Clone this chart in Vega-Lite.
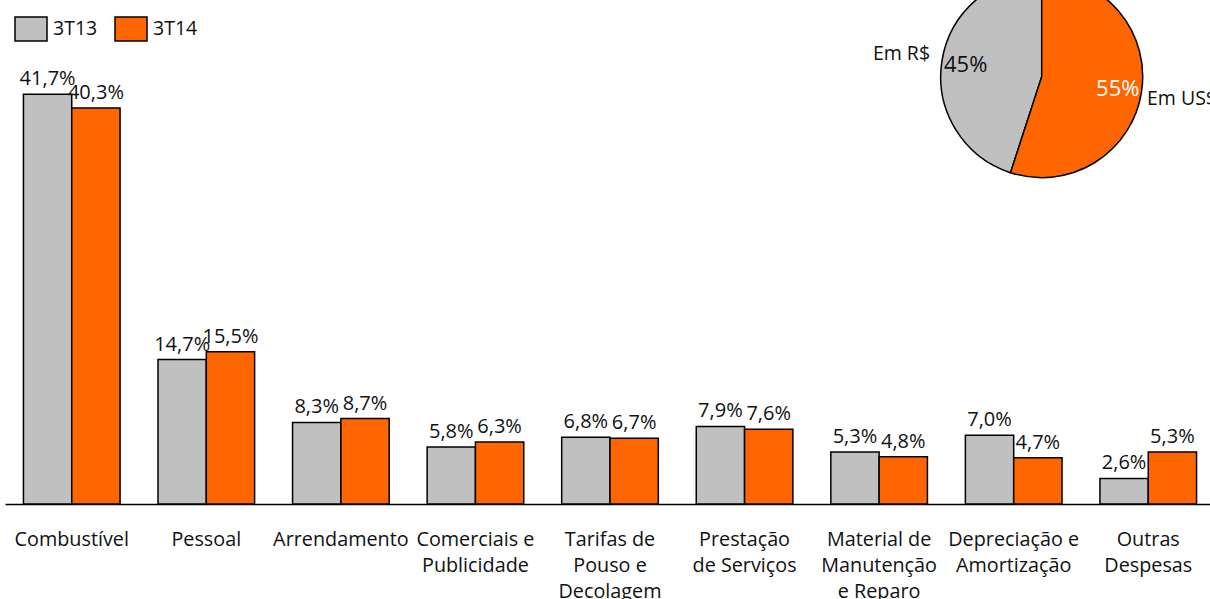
{
  "$schema": "https://vega.github.io/schema/vega-lite/v6.json",
  "width": 1210,
  "height": 504,
  "autosize": {"type": "none"},
  "padding": {"left": 0, "top": 0, "right": 0, "bottom": 95},
  "background": "white",
  "config": {"view": {"stroke": null}, "font": "Open Sans"},
  "datasets": {
    "custos": [
      {"categoria": "Combustível", "periodo": "3T13", "valor": 41.7},
      {"categoria": "Combustível", "periodo": "3T14", "valor": 40.3},
      {"categoria": "Pessoal", "periodo": "3T13", "valor": 14.7},
      {"categoria": "Pessoal", "periodo": "3T14", "valor": 15.5},
      {"categoria": "Arrendamento", "periodo": "3T13", "valor": 8.3},
      {"categoria": "Arrendamento", "periodo": "3T14", "valor": 8.7},
      {"categoria": "Comerciais e Publicidade", "periodo": "3T13", "valor": 5.8},
      {"categoria": "Comerciais e Publicidade", "periodo": "3T14", "valor": 6.3},
      {"categoria": "Tarifas de Pouso e Decolagem", "periodo": "3T13", "valor": 6.8},
      {"categoria": "Tarifas de Pouso e Decolagem", "periodo": "3T14", "valor": 6.7},
      {"categoria": "Prestação de Serviços", "periodo": "3T13", "valor": 7.9},
      {"categoria": "Prestação de Serviços", "periodo": "3T14", "valor": 7.6},
      {"categoria": "Material de Manutenção e Reparo", "periodo": "3T13", "valor": 5.3},
      {"categoria": "Material de Manutenção e Reparo", "periodo": "3T14", "valor": 4.8},
      {"categoria": "Depreciação e Amortização", "periodo": "3T13", "valor": 7.0},
      {"categoria": "Depreciação e Amortização", "periodo": "3T14", "valor": 4.7},
      {"categoria": "Outras Despesas", "periodo": "3T13", "valor": 2.6},
      {"categoria": "Outras Despesas", "periodo": "3T14", "valor": 5.3}
    ],
    "moeda": [
      {"moeda": "Em R$", "participacao": 45},
      {"moeda": "Em US$", "participacao": 55}
    ]
  },
  "layer": [
    {
      "data": {"name": "custos"},
      "mark": {"type": "bar", "stroke": "black", "strokeWidth": 1.5},
      "encoding": {
        "x": {
          "field": "categoria", "type": "nominal", "sort": null,
          "scale": {"range": [5, 1215], "paddingInner": 0.282, "paddingOuter": 0.137},
          "axis": {
            "title": null, "domain": true, "domainColor": "black", "domainWidth": 1.5,
            "ticks": false, "labelAngle": 0, "labelFont": "Open Sans", "labelFontSize": 19.8,
            "labelColor": "#111111", "labelPadding": 25, "labelLineHeight": 26,
            "labelOverlap": false, "labelBound": false, "labelLimit": 0, "labelBaseline": "top",
            "labelExpr": "{'Comerciais e Publicidade': ['Comerciais e', 'Publicidade'], 'Tarifas de Pouso e Decolagem': ['Tarifas de', 'Pouso e', 'Decolagem'], 'Prestação de Serviços': ['Prestação', 'de Serviços'], 'Material de Manutenção e Reparo': ['Material de', 'Manutenção', 'e Reparo'], 'Depreciação e Amortização': ['Depreciação e', 'Amortização'], 'Outras Despesas': ['Outras', 'Despesas']}[datum.label] || datum.label"
          }
        },
        "xOffset": {"field": "periodo", "type": "nominal", "scale": {"paddingInner": 0, "paddingOuter": 0}},
        "y": {"field": "valor", "type": "quantitative", "scale": {"domain": [0, 51.3], "nice": false, "zero": true}, "axis": null},
        "color": {
          "field": "periodo", "type": "nominal",
          "scale": {"domain": ["3T13", "3T14"], "range": ["#C0C0C0", "#FF6600"]},
          "legend": {
            "orient": "none", "legendX": 14, "legendY": 12, "direction": "horizontal", "title": null,
            "symbolType": "M-1,-0.75H1V0.75H-1Z", "symbolSize": 1024, "symbolStrokeColor": "black",
            "symbolStrokeWidth": 1.5, "symbolOpacity": 1, "labelFont": "Open Sans", "labelFontSize": 19.5,
            "labelColor": "#111111", "labelOffset": 5, "columnPadding": 14
          }
        }
      }
    },
    {
      "data": {"name": "custos"},
      "transform": [{"calculate": "replace(format(datum.valor, '.1f'), '.', ',') + '%'", "as": "rotulo"}],
      "mark": {"type": "text", "baseline": "alphabetic", "dy": -9, "fontSize": 20, "color": "#111111", "font": "Open Sans"},
      "encoding": {
        "x": {"field": "categoria", "type": "nominal", "sort": null},
        "xOffset": {"field": "periodo", "type": "nominal"},
        "y": {"field": "valor", "type": "quantitative"},
        "text": {"field": "rotulo"}
      }
    },
    {
      "data": {"name": "moeda"},
      "mark": {"type": "arc", "radius": 101, "stroke": "black", "strokeWidth": 1.5},
      "encoding": {
        "x": {"datum": "Depreciação e Amortização", "type": "nominal", "bandPosition": 0.79},
        "y": {"datum": 43.5, "type": "quantitative"},
        "theta": {"field": "participacao", "type": "quantitative", "stack": true},
        "order": {"field": "moeda", "sort": "descending"},
        "color": {
          "field": "moeda", "type": "nominal",
          "scale": {"domain": ["Em R$", "Em US$"], "range": ["#C0C0C0", "#FF6600"]},
          "legend": null
        }
      }
    },
    {
      "data": {"name": "moeda"},
      "transform": [{"calculate": "datum.participacao + '%'", "as": "rotulo"}],
      "mark": {"type": "text", "radius": 77, "fontSize": 22, "font": "Open Sans"},
      "encoding": {
        "x": {"datum": "Depreciação e Amortização", "type": "nominal", "bandPosition": 0.79},
        "y": {"datum": 43.5, "type": "quantitative"},
        "theta": {"field": "participacao", "type": "quantitative", "stack": true},
        "order": {"field": "moeda", "sort": "descending"},
        "text": {"field": "rotulo"},
        "color": {"condition": {"test": "datum.moeda === 'Em US$'", "value": "white"}, "value": "#111111"}
      }
    },
    {
      "data": {"name": "moeda"},
      "mark": {"type": "text", "radius": 142, "fontSize": 19.5, "font": "Open Sans", "color": "#111111"},
      "encoding": {
        "x": {"datum": "Depreciação e Amortização", "type": "nominal", "bandPosition": 0.79},
        "y": {"datum": 43.5, "type": "quantitative"},
        "theta": {"field": "participacao", "type": "quantitative", "stack": true},
        "order": {"field": "moeda", "sort": "descending"},
        "text": {"field": "moeda"}
      }
    }
  ],
  "resolve": {"scale": {"color": "independent"}}
}
